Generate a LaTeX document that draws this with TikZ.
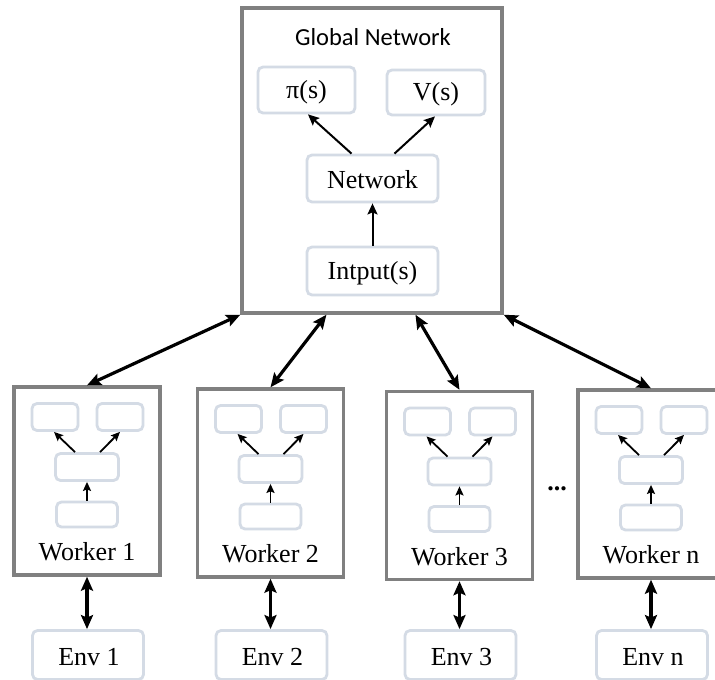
\documentclass[tikz,border=0pt]{standalone}
\usepackage{fontspec}
\setmainfont{Liberation Serif}
\newfontfamily\titlefont{Carlito}
\usetikzlibrary{arrows.meta,calc}
\definecolor{outergray}{RGB}{128,128,128}
\definecolor{innerblue}{RGB}{212,219,229}
\begin{document}
\begin{tikzpicture}[x=1pt,y=-1pt,
  outerbox/.style={draw=outergray,line width=3.4pt,fill=white,inner sep=0pt},
  innerbox/.style={draw=innerblue,line width=2.8pt,rounded corners=5pt,inner sep=0pt,fill=white},
  lbl/.style={font=\fontsize{26}{30}\selectfont,inner sep=0pt},
  bigarrow/.style={line width=3.2pt,{Stealth[length=14pt,width=12pt,inset=2.5pt]}-{Stealth[length=14pt,width=12pt,inset=2.5pt]}},
  smallarrow/.style={line width=2pt,-{Stealth[length=11pt,width=10pt,inset=2pt]}},
  tinyarrow/.style={line width=1.8pt,-{Stealth[length=9pt,width=8pt,inset=1.5pt]}}
]
\useasboundingbox (0,0) rectangle (715,680);
% Global network
\node[outerbox,minimum width=260pt,minimum height=305pt] (G) at (372,160.5) {};
\node[font=\titlefont\fontsize{24.5}{28}\selectfont,inner sep=0pt] (gt) at (373,37) {Global Network};
\node[innerbox,minimum width=97pt,minimum height=46pt] (pi) at (306.5,90) {};
\node[lbl] (pit) at (306.5,92) {π(s)};
\node[innerbox,minimum width=98pt,minimum height=45pt] (vs) at (436,92.5) {};
\node[lbl] (vst) at (436,94) {V(s)};
\node[innerbox,minimum width=131pt,minimum height=47pt] (net) at (372.5,178.5) {};
\node[lbl] (nett) at (372.5,180) {Network};
\node[innerbox,minimum width=131pt,minimum height=48pt] (inp) at (372.5,271) {};
\node[lbl] (inpt) at (372.5,273) {Intput(s)};
\draw[smallarrow] ($(net.north)+(-21,0)$) -- ($(pi.south)+(1.5,0)$);
\draw[smallarrow] ($(net.north)+(22,0)$) -- ($(vs.south)+(-1,0)$);
\draw[smallarrow] (inp.north) -- (net.south);
% coordinates on global box bottom
\coordinate (g1) at (G.south west);
\coordinate (g2) at ($(G.south west)!0.327!(G.south east)$);
\coordinate (g3) at ($(G.south west)!0.665!(G.south east)$);
\coordinate (g4) at (G.south east);
% workers
\foreach \i/\cx/\ty/\lab in {1/87/387/1,2/270.5/389/2,3/459.5/391.5/3,4/651/390/n}{
  \node[outerbox,minimum width=146pt,minimum height=188pt] (w\i) at (\cx,\ty+94) {};
  \node[innerbox,minimum width=46pt,minimum height=27pt] (w\i a) at (\cx-32,\ty+30) {};
  \node[innerbox,minimum width=46pt,minimum height=27pt] (w\i b) at (\cx+33,\ty+30) {};
  \node[innerbox,minimum width=63pt,minimum height=27pt] (w\i c) at (\cx,\ty+80) {};
  \node[innerbox,minimum width=61pt,minimum height=25pt] (w\i d) at (\cx,\ty+127.5) {};
  \node[lbl] (w\i t) at (\cx,\ty+165) {Worker \lab};
  \draw[tinyarrow] ($(w\i c.north)+(-12,0)$) -- ($(w\i a.south)+(-1,0)$);
  \draw[tinyarrow] ($(w\i c.north)+(13,0)$) -- ($(w\i b.south)+(0,0)$);
  \draw[tinyarrow] (w\i d.north) -- (w\i c.south);
  \node[innerbox,minimum width=111pt,minimum height=49pt] (e\i) at (\cx+1,655) {};
  \node[lbl] (e\i t) at (\cx+2,657) {Env \lab};
  \draw[bigarrow] (w\i.south) -- (w\i.south|-e\i.north);
  \draw[bigarrow] (g\i) -- (w\i.north);
}
\node[font=\fontsize{26}{30}\selectfont\bfseries,inner sep=0pt] (dots) at (557,489) {...};
\end{tikzpicture}
\end{document}
